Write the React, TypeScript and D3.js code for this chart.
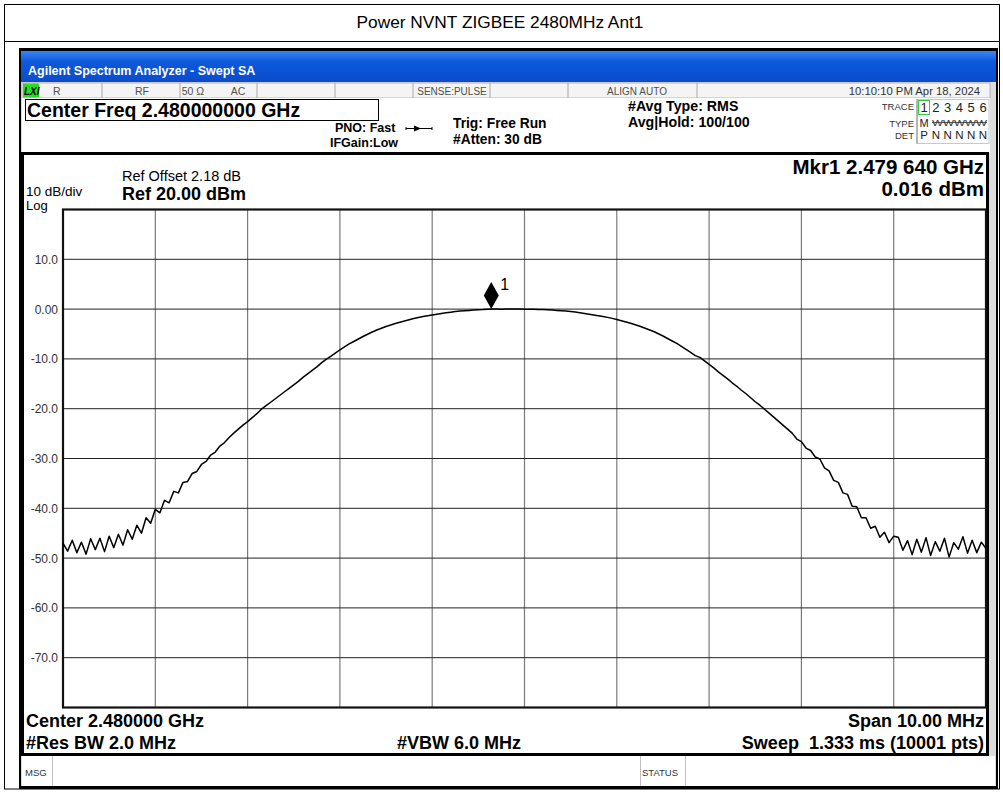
import React from 'react';
import * as d3 from 'd3';

// ---------- data ----------
const chartTitle = 'Power NVNT ZIGBEE 2480MHz Ant1';
const gridFreqsMHz = [2475, 2476, 2477, 2478, 2479, 2480, 2481, 2482, 2483, 2484, 2485];
const gridLevelsDbm = [20, 10, 0, -10, -20, -30, -40, -50, -60, -70, -80];
const yTickValues = [10, 0, -10, -20, -30, -40, -50, -60, -70];
const yTickLabels = ['10.0', '0.00', '-10.0', '-20.0', '-30.0', '-40.0', '-50.0', '-60.0', '-70.0'];
const traceStartMHz = 2475;
const traceStepMHz = 0.05;
const traceDbm = [
  -47.0, -48.6, -46.4, -48.9, -46.8, -49.2, -46.1, -48.3, -46.0, -48.7, -45.6, -47.9, -45.2, -47.4, -44.3, -46.2, -43.4, -45.0, -41.9, -43.0,
  -40.2, -40.9, -38.4, -38.9, -36.6, -36.9, -34.8, -34.6, -33.0, -32.6, -31.2, -30.6, -29.3, -28.7, -27.5, -26.8, -25.8, -24.9, -24.1, -23.3,
  -22.6, -21.8, -21.0, -20.1, -19.4, -18.7, -18.0, -17.3, -16.6, -15.9, -15.2, -14.5, -13.7, -13.0, -12.3, -11.6, -10.8, -10.1, -9.5, -8.85,
  -8.2, -7.6, -7.0, -6.5, -6.0, -5.5, -5.05, -4.6, -4.2, -3.85, -3.5, -3.2, -2.9, -2.65, -2.4, -2.15, -1.9, -1.7, -1.5, -1.35,
  -1.2, -1.05, -0.9, -0.75, -0.62, -0.5, -0.4, -0.33, -0.27, -0.2, -0.15, -0.1, -0.02, 0.016, 0.0, -0.01, 0.0, 0.01,
  0.0, 0.0, -0.01, -0.02, -0.04, -0.07, -0.1, -0.14, -0.19, -0.26, -0.32, -0.39, -0.48, -0.6, -0.73, -0.87, -1.02, -1.17, -1.32, -1.48,
  -1.66, -1.86, -2.1, -2.35, -2.6, -2.85, -3.15, -3.45, -3.8, -4.15, -4.5, -4.95, -5.4, -5.9, -6.4, -6.9, -7.5, -8.1, -8.7, -9.35,
  -9.7, -10.4, -11.1, -11.8, -12.6, -13.3, -14.0, -14.8, -15.5, -16.3, -17.0, -17.8, -18.6, -19.3, -20.1, -20.9, -21.7, -22.5, -23.3, -24.1,
  -24.9, -26.1, -26.6, -27.9, -28.4, -29.7, -30.1, -31.9, -32.5, -34.4, -34.8, -36.9, -37.2, -39.6, -39.7, -41.9, -41.9, -44.0, -43.6, -45.8, -44.8, -46.9, -45.6,
  -45.8, -48.4, -46.5, -49.3, -46.2, -48.8, -45.9, -49.5, -46.7, -48.6, -46.0, -49.8, -46.9, -48.2, -45.7, -49.0, -46.4, -48.9, -46.8, -48.1,
];
const markerFreqMHz = 2479.64;
const markerDbm = 0.016;
const traceNumbers = ['1', '2', '3', '4', '5', '6'];
const traceDet = ['P', 'N', 'N', 'N', 'N', 'N'];

// ---------- layout ----------
const W = 1003;
const H = 793;
const PL = 63, PR = 986, PT = 209.5, PB = 707.5;
const SANS = '"Liberation Sans", Arial, Helvetica, sans-serif';

export default function App() {
  const x = d3.scaleLinear().domain([2475, 2485]).range([PL, PR]);
  const y = d3.scaleLinear().domain([-80, 20]).range([PB, PT]);
  const pts = traceDbm.map((v, i) => ({ f: traceStartMHz + i * traceStepMHz, v }));
  const line = d3.line<{ f: number; v: number }>().x((d) => x(d.f)).y((d) => y(d.v));
  const mx = x(markerFreqMHz);
  const my = y(markerDbm);
  const traceX = (i: number) => 924 + i * 11.8;

  return (
    <svg width={W} height={H} style={{ position: 'absolute', left: 0, top: 0, display: 'block' }} fontFamily={SANS}>
      <defs>
        <linearGradient id="bluebar" x1="0" y1="0" x2="0" y2="1">
          <stop offset="0" stopColor="#3b86f5" />
          <stop offset="0.35" stopColor="#0d58dc" />
          <stop offset="1" stopColor="#0a4ccc" />
        </linearGradient>
        <clipPath id="plotclip">
          <rect x={PL} y={PT} width={PR - PL} height={PB - PT} />
        </clipPath>
      </defs>
      <rect x={0} y={0} width={W} height={H} fill="#fff" />
      {/* outer frame + title */}
      <rect x={4.5} y={4.5} width={995} height={784.5} fill="none" stroke="#000" strokeWidth={1} />
      <line x1={4.5} x2={999.5} y1={41.5} y2={41.5} stroke="#000" />
      <text x={500} y={28} fontSize={17.3} textAnchor="middle" fill="#000">{chartTitle}</text>

      {/* analyzer window */}
      <rect x={19} y={48} width={979} height={741} fill="#000" />
      <rect x={21} y={51} width={975} height={31} fill="url(#bluebar)" />
      <text x={28} y={74.5} fontSize={12.5} fontWeight="bold" fill="#fff">Agilent Spectrum Analyzer - Swept SA</text>
      <rect x={21} y={82} width={975} height={704} fill="#dcdcdc" />

      {/* row 2 */}
      <rect x={22} y={83} width={968} height={15} fill="#f4f4f4" stroke="#a8a8a8" strokeWidth={0.8} />
      {[102, 180, 257, 335, 413, 490, 568, 697].map((sx) => (
        <line key={sx} x1={sx} x2={sx} y1={83} y2={98} stroke="#a8a8a8" strokeWidth={1} />
      ))}
      <rect x={23} y={83.5} width={16} height={14} fill="#22dd22" />
      <text x={24} y={94.5} fontSize={10} fontWeight="bold" fontStyle="italic" fill="#000">LXI</text>
      <g fontSize={10.5} fill="#505050">
        <text x={53} y={94.5}>R</text>
        <text x={142} y={94.5} textAnchor="middle">RF</text>
        <text x={193} y={94.5} textAnchor="middle">50 Ω</text>
        <text x={238} y={94.5} textAnchor="middle">AC</text>
        <text x={452} y={94.5} textAnchor="middle" fontSize={10}>SENSE:PULSE</text>
        <text x={637} y={94.5} textAnchor="middle" fontSize={10}>ALIGN AUTO</text>
        <text x={980} y={94.5} textAnchor="end" fontSize={11.3} fill="#333">10:10:10 PM Apr 18, 2024</text>
      </g>

      {/* header panel */}
      <rect x={22} y={98} width={968} height={55} fill="#fff" />
      <rect x={25.5} y={99.5} width={353} height={21} fill="#fff" stroke="#000" strokeWidth={1} />
      <text x={27} y={116.8} fontSize={19.5} fontWeight="bold" fill="#000">Center Freq 2.480000000 GHz</text>
      <g fontWeight="bold" fill="#000">
        <text x={335} y={132} fontSize={12.5}>PNO: Fast</text>
        <text x={330} y={146.7} fontSize={12.5}>IFGain:Low</text>
        <text x={453} y={128} fontSize={13.8}>Trig: Free Run</text>
        <text x={453} y={144.3} fontSize={13.8}>#Atten: 30 dB</text>
        <text x={628} y={111} fontSize={14.2}>#Avg Type: RMS</text>
        <text x={628} y={126.7} fontSize={14.2}>Avg|Hold: 100/100</text>
      </g>
      <line x1={406} x2={432} y1={128.5} y2={128.5} stroke="#000" strokeWidth={1} />
      <path d="M414,125.5 L421,128.5 L414,131.5 Z" fill="#000" />
      <line x1={406} x2={406} y1={127} y2={130} stroke="#000" />
      <line x1={432} x2={432} y1={127} y2={130} stroke="#000" />
      {/* trace box */}
      <g fill="#333" fontSize={9.5}>
        <text x={914} y={110} textAnchor="end">TRACE</text>
        <text x={914} y={126.5} textAnchor="end">TYPE</text>
        <text x={914} y={138.5} textAnchor="end">DET</text>
      </g>
      <rect x={917} y={99.5} width={72} height={44} fill="#fff" stroke="#c8c8c8" strokeWidth={1} />
      <line x1={917} x2={917} y1={99.5} y2={143.5} stroke="#888" />
      <rect x={918.5} y={100.5} width={11} height={14} fill="none" stroke="#3cc83c" strokeWidth={1} />
      {traceNumbers.map((t, i) => (
        <text key={'n' + i} x={traceX(i)} y={112.3} fontSize={13} textAnchor="middle" fill="#222">{t}</text>
      ))}
      <text x={traceX(0)} y={126.5} fontSize={11} textAnchor="middle" fill="#222">M</text>
      <text x={932} y={126} fontSize={8.5} fill="#333" textLength={55} lengthAdjust="spacingAndGlyphs">WWWWW</text>
      <line x1={932} x2={987} y1={122.5} y2={122.5} stroke="#333" strokeWidth={0.8} />
      {traceDet.map((t, i) => (
        <text key={'d' + i} x={traceX(i)} y={138.5} fontSize={11.5} textAnchor="middle" fill="#222">{t}</text>
      ))}

      {/* graph panel */}
      <rect x={22.5} y={153.5} width={965} height={601} fill="#fff" stroke="#000" strokeWidth={3} />
      <text x={122} y={181} fontSize={14.5} fill="#000">Ref Offset 2.18 dB</text>
      <text x={122} y={200} fontSize={18} fontWeight="bold" fill="#000">Ref 20.00 dBm</text>
      <text x={26} y={195.5} fontSize={13.5} fill="#000">10 dB/div</text>
      <text x={26} y={210} fontSize={13} fill="#000">Log</text>
      <text x={984} y={174} fontSize={20.5} fontWeight="bold" textAnchor="end" fill="#000">Mkr1 2.479 640 GHz</text>
      <text x={984} y={196} fontSize={20.5} fontWeight="bold" textAnchor="end" fill="#000">0.016 dBm</text>

      {/* grid */}
      {gridFreqsMHz.map((f) => (
        <line key={'vx' + f} x1={x(f)} x2={x(f)} y1={PT} y2={PB} stroke="#7a7a7a" strokeWidth={1.2} />
      ))}
      {gridLevelsDbm.map((l) => (
        <line key={'hy' + l} x1={PL} x2={PR} y1={y(l)} y2={y(l)} stroke="#222" strokeWidth={1} />
      ))}
      <rect x={PL} y={PT} width={PR - PL} height={PB - PT} fill="none" stroke="#111" strokeWidth={2.2} />
      {yTickValues.map((v, i) => (
        <text key={'yl' + v} x={58} y={y(v) + 4.5} fontSize={12} textAnchor="end" fill="#333">{yTickLabels[i]}</text>
      ))}

      {/* trace */}
      <g clipPath="url(#plotclip)">
        <path d={line(pts) || ''} fill="none" stroke="#000" strokeWidth={1.5} strokeLinejoin="round" />
      </g>
      {/* marker */}
      <path d={`M${mx},${my - 27} L${mx + 7.5},${my - 13.5} L${mx},${my} L${mx - 7.5},${my - 13.5} Z`} fill="#000" />
      <text x={mx + 9} y={my - 19} fontSize={16} fill="#000">1</text>

      {/* bottom annotations */}
      <g fontWeight="bold" fontSize={18} fill="#000">
        <text x={26} y={727}>Center 2.480000 GHz</text>
        <text x={26} y={748.5}>#Res BW 2.0 MHz</text>
        <text x={397} y={748.5}>#VBW 6.0 MHz</text>
        <text x={984} y={727} textAnchor="end">Span 10.00 MHz</text>
        <text x={984} y={748.5} textAnchor="end" xmlSpace="preserve">Sweep  1.333 ms (10001 pts)</text>
      </g>

      {/* MSG row */}
      <rect x={22} y={756} width={973} height={30} fill="#fff" />
      <line x1={52.5} x2={52.5} y1={756} y2={786} stroke="#c0c0c0" />
      <line x1={640.5} x2={640.5} y1={756} y2={786} stroke="#c0c0c0" />
      <line x1={685.5} x2={685.5} y1={756} y2={786} stroke="#c0c0c0" />
      <text x={25} y={776} fontSize={9.5} fill="#333">MSG</text>
      <text x={642} y={776} fontSize={9.5} fill="#333">STATUS</text>
    </svg>
  );
}
